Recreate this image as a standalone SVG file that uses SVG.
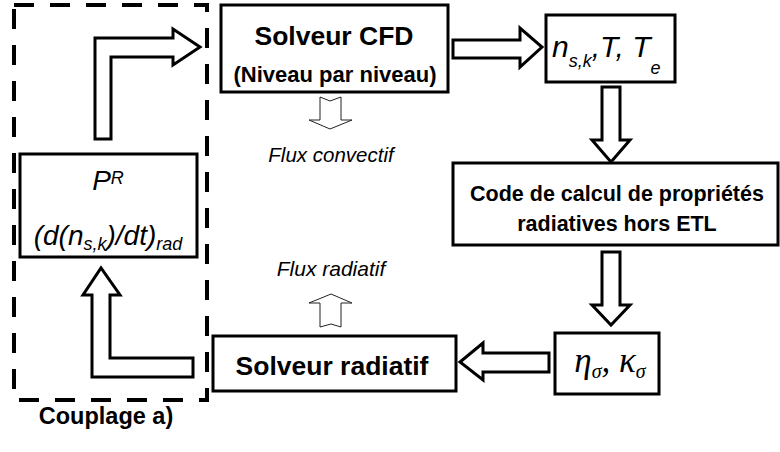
<svg xmlns="http://www.w3.org/2000/svg" width="780" height="452" viewBox="0 0 780 452">
<style>
.box{fill:#fff;stroke:#000;stroke-width:3}
.big{fill:#fff;stroke:#000;stroke-width:3;stroke-linejoin:miter}
.thin{fill:#fff;stroke:#222;stroke-width:1}
.t{font-family:"Liberation Sans",Arial,sans-serif;fill:#000}
.b{font-weight:bold}
.i{font-style:italic}
.g{font-family:"Liberation Serif","Times New Roman",serif;font-style:italic;fill:#000}
</style>
<rect width="780" height="452" fill="#fff"/>
<g id="couplage">
<rect x="14" y="5" width="193" height="395" fill="none" stroke="#000" stroke-width="4" stroke-dasharray="20 16"/>
<text class="t b" x="106" y="424" font-size="23.5" text-anchor="middle">Couplage a)</text>
</g>
<g id="connectors">
<polygon class="big" points="95,139 95,38 173,38 173,29 200,47 173,65 173,57 111,57 111,139"/>
<polygon class="big" points="193,358 193,377 92,377 92,295 83,295 101,268 120,295 110,295 110,358"/>
<polygon class="big" points="453,40 520,40 520,28 542,47 520,67 520,58 453,58"/>
<polygon class="big" points="602,87 620,87 620,140 630,140 611,162 592,140 602,140"/>
<polygon class="big" points="602,252 620,252 620,305 630,305 611,325 592,305 602,305"/>
<polygon class="big" points="549,353 549,372 483,372 483,380 460,362 483,343 483,353"/>
<polygon class="thin" points="320,97 330,101 341,97 341,120 352,120 330,129 309,120 320,120"/>
<polygon class="thin" points="331,294 352,303 341,303 341,327 331,324 320,327 320,303 309,303"/>
</g>
<g id="cfd">
<rect class="box" x="221" y="5" width="227" height="87"/>
<text class="t b" x="334" y="45" font-size="26.5" text-anchor="middle">Solveur CFD</text>
<text class="t b" x="335" y="82" font-size="22" text-anchor="middle">(Niveau par niveau)</text>
</g>
<g id="variables">
<rect class="box" x="546" y="15" width="129" height="67"/>
<text class="t i" x="552" y="57" font-size="30">n<tspan dy="10" font-size="18">s,k</tspan><tspan dy="-10">,T, T</tspan><tspan dy="17" font-size="18">e</tspan></text>
</g>
<g id="code">
<rect class="box" x="453" y="163" width="325" height="82"/>
<text class="t b" x="617" y="201" font-size="21.5" text-anchor="middle">Code de calcul de propriétés</text>
<text class="t b" x="617" y="231" font-size="21.5" text-anchor="middle">radiatives hors ETL</text>
</g>
<g id="proprietes">
<rect class="box" x="555" y="333" width="104" height="61"/>
<text class="g" x="610" y="372" font-size="35" text-anchor="middle">η<tspan dy="6" font-size="20">σ</tspan><tspan dy="-6">, κ</tspan><tspan dy="6" font-size="20">σ</tspan></text>
</g>
<g id="radiatif">
<rect class="box" x="213" y="336" width="243" height="55"/>
<text class="t b" x="332" y="375" font-size="26.5" text-anchor="middle">Solveur radiatif</text>
</g>
<g id="termes">
<rect class="box" x="20" y="154" width="177" height="103"/>
<text class="t i" x="108" y="190" font-size="28" text-anchor="middle">P<tspan dy="-6" font-size="18">R</tspan></text>
<text class="t i" x="108" y="245" font-size="28" text-anchor="middle">(d(n<tspan dy="5" font-size="18">s,k</tspan><tspan dy="-5">)/dt)</tspan><tspan dy="5" font-size="18">rad</tspan></text>
</g>
<g id="labels">
<text class="t i" x="331" y="162" font-size="20.5" text-anchor="middle">Flux convectif</text>
<text class="t i" x="331" y="276" font-size="21" text-anchor="middle">Flux radiatif</text>
</g>
</svg>
